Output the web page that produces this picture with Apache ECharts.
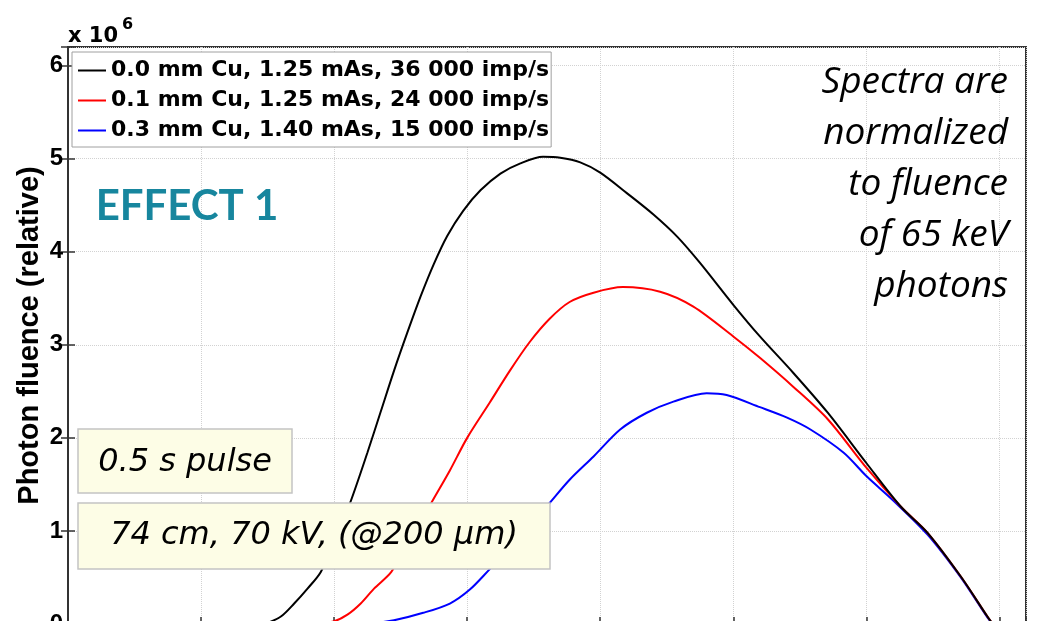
<!DOCTYPE html>
<html>
<head>
<meta charset="utf-8">
<title>Photon fluence spectra</title>
<script src="https://cdn.jsdelivr.net/npm/echarts@6/dist/echarts.min.js"></script>
<style>
  html, body { margin: 0; padding: 0; background: #fff; }
  #chart { width: 1037px; height: 621px; }
</style>
</head>
<body>
<div id="chart"></div>
<script>
// photon energy (keV) and fluence (x 10^6)
const blackKeV = [14.8, 16.0, 17.0, 18.0, 19.0, 20.0, 21.2, 22.5, 23.5, 24.5, 25.5, 26.5, 27.5, 28.5, 29.7, 31.0, 32.5, 34.0, 35.7, 37.0, 38.5, 40.0, 42.0, 44.0, 45.8, 47.5, 50.0, 52.0, 54.5, 57.1, 60.0, 62.6, 64.6, 67.1, 69.1, 69.5];
const blackVal = [0.00, 0.08, 0.22, 0.38, 0.56, 0.88, 1.30, 1.84, 2.28, 2.72, 3.13, 3.52, 3.87, 4.17, 4.44, 4.66, 4.84, 4.95, 5.02, 5.01, 4.96, 4.85, 4.63, 4.40, 4.16, 3.88, 3.43, 3.09, 2.70, 2.27, 1.73, 1.26, 0.98, 0.51, 0.08, 0.00];

const redKeV = [18.5, 20.0, 21.0, 22.0, 23.0, 24.3, 25.5, 26.5, 27.3, 28.7, 30.0, 31.7, 33.2, 34.7, 36.2, 37.7, 39.5, 41.7, 44.5, 47.0, 50.0, 52.0, 54.5, 57.1, 60.0, 62.6, 64.6, 67.1, 69.1, 69.5];
const redVal = [0.00, 0.03, 0.10, 0.22, 0.38, 0.56, 0.86, 1.09, 1.30, 1.65, 2.00, 2.38, 2.72, 3.03, 3.28, 3.46, 3.56, 3.62, 3.57, 3.41, 3.09, 2.86, 2.55, 2.20, 1.68, 1.26, 0.98, 0.51, 0.08, 0.00];

const blueKeV = [22.5, 24.5, 26.7, 28.7, 30.2, 31.7, 33.8, 36.2, 37.7, 39.5, 41.5, 43.5, 45.5, 48.0, 49.5, 52.0, 54.0, 55.8, 58.3, 60.0, 62.0, 64.6, 67.1, 69.1, 69.5];
const blueVal = [0.00, 0.04, 0.12, 0.22, 0.37, 0.59, 0.90, 1.30, 1.55, 1.80, 2.09, 2.27, 2.39, 2.48, 2.46, 2.33, 2.22, 2.09, 1.84, 1.59, 1.33, 0.96, 0.50, 0.07, 0.00];

const seriesNames = [
  "0.0 mm Cu, 1.25 mAs, 36 000 imp/s",
  "0.1 mm Cu, 1.25 mAs, 24 000 imp/s",
  "0.3 mm Cu, 1.40 mAs, 15 000 imp/s"
];
const seriesColors = ["#000000", "#ff0000", "#0000ff"];

const pairs = (xs, ys) => xs.map((x, i) => [x, ys[i]]);
const allData = [pairs(blackKeV, blackVal), pairs(redKeV, redVal), pairs(blueKeV, blueVal)];

const FONT = '"Liberation Sans", Arial, sans-serif';
const WIDE = '"DejaVu Sans", sans-serif';
const chart = echarts.init(document.getElementById("chart"), null, { renderer: "canvas" });

const frameColor = "#333333";
const gridLine = { show: true, lineStyle: { color: "#d2d2d2", type: "dotted", width: 1 } };
const tickStyle = { show: true, inside: true, length: 7, lineStyle: { color: frameColor, width: 1.5 } };

chart.setOption({
  animation: false,
  backgroundColor: "#ffffff",
  grid: {
    left: 68, top: 47, width: 958, height: 577,
    outerBoundsMode: "none",
    containLabel: false,
    show: true, borderColor: frameColor, borderWidth: 2, backgroundColor: "transparent"
  },
  legend: {
    orient: "vertical",
    left: 72, top: 52,
    data: seriesNames,
    icon: "rect",
    itemWidth: 28, itemHeight: 2,
    itemGap: 7,
    padding: [7, 2, 5, 6],
    backgroundColor: "#ffffff",
    borderColor: "#a0a0a0",
    borderWidth: 1,
    borderRadius: 0,
    z: 20,
    textStyle: { fontFamily: WIDE, fontSize: 22, fontWeight: "bold", color: "#000", lineHeight: 23 }
  },
  xAxis: [
    {
      type: "value", min: 0, max: 72, interval: 10,
      axisLine: { show: true, lineStyle: { color: frameColor, width: 2 } },
      axisTick: tickStyle,
      axisLabel: { show: false },
      splitLine: gridLine
    },
    {
      type: "value", position: "top", min: 0, max: 72, interval: 10,
      axisLine: { show: true, lineStyle: { color: frameColor, width: 2 } },
      axisTick: tickStyle,
      axisLabel: { show: false },
      splitLine: { show: false }
    }
  ],
  yAxis: [
    {
      type: "value", min: 0, max: 6.2, interval: 1,
      name: "Photon fluence (relative)",
      nameLocation: "middle", nameGap: 24, nameRotate: 90,
      nameMoveOverlap: false,
      nameTextStyle: { fontFamily: FONT, fontSize: 29, fontWeight: "bold", color: "#000" },
      axisLine: { show: true, lineStyle: { color: frameColor, width: 2 } },
      axisTick: tickStyle,
      axisLabel: {
        fontFamily: FONT, fontSize: 24, fontWeight: "bold", color: "#000", margin: 5,
        formatter: (v) => (Number.isInteger(v) ? String(v) : "")
      },
      splitLine: gridLine
    },
    {
      type: "value", position: "right", min: 0, max: 6.2, interval: 1,
      axisLine: { show: true, lineStyle: { color: frameColor, width: 2 } },
      axisTick: tickStyle,
      axisLabel: { show: false },
      splitLine: { show: false }
    }
  ],
  series: seriesNames.map((name, i) => ({
    name: name,
    type: "line",
    xAxisIndex: 0,
    yAxisIndex: 0,
    data: allData[i],
    showSymbol: false,
    symbol: "none",
    smooth: 0.3,
    color: seriesColors[i],
    lineStyle: { color: seriesColors[i], width: 2 },
    z: 3 - i
  })),
  graphic: [
    // x 10^6 exponent
    { type: "text", z: 50, style: { x: 68, y: 47, text: "x 10", font: "bold 21px " + WIDE, fill: "#000", align: "left", verticalAlign: "bottom" } },
    { type: "text", z: 50, style: { x: 122, y: 33, text: "6", font: "bold 16px " + WIDE, fill: "#000", align: "left", verticalAlign: "bottom" } },
    // EFFECT 1
    { type: "text", z: 50, style: { x: 187, y: 206, text: "EFFECT 1", font: "bold 42px Lato, sans-serif", fill: "#17869e", align: "center", verticalAlign: "middle" } },
    // note on the right
    { type: "text", z: 50, style: {
      x: 1008, y: 184, align: "right", verticalAlign: "middle",
      text: "Spectra are\nnormalized\nto fluence\nof 65 keV\nphotons",
      font: "italic 37px \"Open Sans\", sans-serif", lineHeight: 51, fill: "#000"
    } },
    // boxes
    { type: "rect", z: 50, shape: { x: 78, y: 429, width: 214, height: 64 }, style: { fill: "#fdfde6", stroke: "#c4c4c4", lineWidth: 1.5 } },
    { type: "text", z: 51, style: { x: 185, y: 463, text: "0.5 s pulse", font: "oblique 32px " + WIDE, fill: "#000", align: "center", verticalAlign: "middle" } },
    { type: "rect", z: 50, shape: { x: 78, y: 503, width: 472, height: 66 }, style: { fill: "#fdfde6", stroke: "#c4c4c4", lineWidth: 1.5 } },
    { type: "text", z: 51, style: { x: 314, y: 536, text: "74 cm, 70 kV, (@200 \u00b5m)", font: "oblique 32px " + WIDE, fill: "#000", align: "center", verticalAlign: "middle" } }
  ]
});

window.addEventListener("resize", function () {
  chart.resize();
});
</script>
</body>
</html>
